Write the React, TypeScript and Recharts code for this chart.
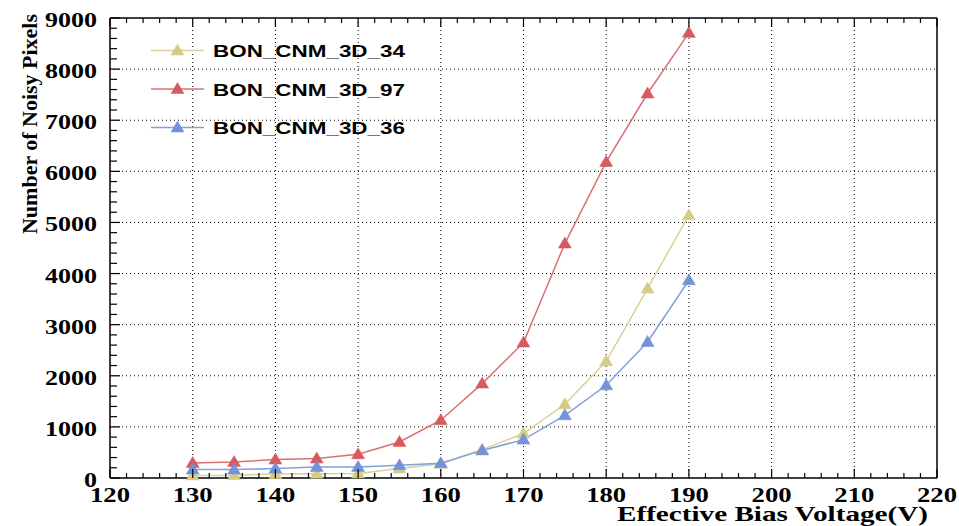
import React from 'react';
import { LineChart, Line, XAxis, YAxis, CartesianGrid, Legend } from 'recharts';

// Noisy pixel count vs effective bias voltage, three sensors
const voltages = [130, 135, 140, 145, 150, 155, 160, 165, 170, 175, 180, 185, 190];
const cnm34 = [50, 55, 80, 85, 90, 185, 280, 556, 869, 1442, 2284, 3707, 5141];
const cnm97 = [293, 313, 360, 380, 464, 705, 1130, 1847, 2650, 4587, 6184, 7523, 8709];
const cnm36 = [164, 164, 184, 215, 215, 248, 290, 540, 751, 1227, 1814, 2662, 3869];

const xMajor = [120, 130, 140, 150, 160, 170, 180, 190, 200, 210, 220];
const yMajor = [0, 1000, 2000, 3000, 4000, 5000, 6000, 7000, 8000, 9000];

const series = [
  { key: 'cnm34', name: 'BON_CNM_3D_34', marker: '#d4cc84', line: '#d8d196' },
  { key: 'cnm97', name: 'BON_CNM_3D_97', marker: '#d65b5e', line: '#dc6f73' },
  { key: 'cnm36', name: 'BON_CNM_3D_36', marker: '#7392d8', line: '#839fdc' },
];

const data = voltages.map((v, i) => ({ v, cnm34: cnm34[i], cnm97: cnm97[i], cnm36: cnm36[i] }));

// minor ticks between the labelled ones
const subdivide = (major: number[], parts: number) => {
  const out: number[] = [];
  for (let i = 0; i < major.length - 1; i++) {
    const step = (major[i + 1] - major[i]) / parts;
    for (let k = 0; k < parts; k++) out.push(major[i] + k * step);
  }
  out.push(major[major.length - 1]);
  return out;
};
const xTicks = subdivide(xMajor, 5);
const yTicks = subdivide(yMajor, 5);

const W = 959;
const H = 526;

const numFont = {
  fontFamily: '"Liberation Serif", "Times New Roman", serif',
  fontWeight: 700,
  fontSize: 21,
  fill: '#000',
};

const triangle = (cx: number, cy: number, color: string, key?: string | number) => (
  <polygon
    key={key}
    points={`${cx},${cy - 6.5} ${cx - 6.5},${cy + 4.5} ${cx + 6.5},${cy + 4.5}`}
    fill={color}
    stroke={color}
    strokeWidth={0.5}
  />
);

const BottomTick = (p: any) => {
  const v = p.payload.value;
  const major = xMajor.includes(v);
  return (
    <g>
      <line x1={p.x} x2={p.x} y1={p.y} y2={p.y - (major ? 9 : 5)} stroke="#000" strokeWidth={1.2} />
      {major && (
        <text x={p.x} y={p.y + 24} textAnchor="middle" textLength={40} lengthAdjust="spacingAndGlyphs" {...numFont}>
          {v}
        </text>
      )}
    </g>
  );
};

const TopTick = (p: any) => {
  const major = xMajor.includes(p.payload.value);
  return <line x1={p.x} x2={p.x} y1={p.y} y2={p.y + (major ? 9 : 5)} stroke="#000" strokeWidth={1.2} />;
};

const LeftTick = (p: any) => {
  const v = p.payload.value;
  const major = yMajor.includes(v);
  const label = String(v);
  return (
    <g>
      <line x1={p.x} x2={p.x + (major ? 10 : 7)} y1={p.y} y2={p.y} stroke="#000" strokeWidth={1.2} />
      {major && (
        <text
          x={p.x - 13}
          y={p.y + 9}
          textAnchor="end"
          textLength={label.length * 13}
          lengthAdjust="spacingAndGlyphs"
          {...numFont}
        >
          {label}
        </text>
      )}
    </g>
  );
};

const RightTick = (p: any) => {
  const major = yMajor.includes(p.payload.value);
  return <line x1={p.x} x2={p.x - (major ? 10 : 7)} y1={p.y} y2={p.y} stroke="#000" strokeWidth={1.2} />;
};

const LegendBox = () => (
  <svg width={430} height={150} style={{ display: 'block' }}>
    {series.map((s, i) => {
      const y = 50.5 + i * 38.5;
      return (
        <g key={s.key}>
          <line x1={151} x2={204} y1={y} y2={y} stroke={s.line} strokeWidth={1.5} />
          {triangle(177.5, y, s.marker)}
          <text
            x={213}
            y={y + 6.5}
            textLength={192}
            lengthAdjust="spacingAndGlyphs"
            fontFamily='"Liberation Sans", Arial, sans-serif'
            fontWeight={700}
            fontSize={16.5}
            fill="#000"
          >
            {s.name}
          </text>
        </g>
      );
    })}
  </svg>
);

export default function App() {
  return (
    <div style={{ position: 'absolute', left: 0, top: 0, width: W, height: H, background: '#fff' }}>
      <LineChart width={W} height={H} data={data} margin={{ top: 0, right: 0, bottom: 0, left: 0 }}>
        <CartesianGrid
          stroke="#000"
          strokeDasharray="1 3"
          verticalValues={[130, 140, 150, 160, 170, 180, 190, 200, 210]}
          horizontalValues={[1000, 2000, 3000, 4000, 5000, 6000, 7000, 8000]}
        />
        <XAxis
          dataKey="v"
          type="number"
          domain={[120, 220]}
          ticks={xTicks}
          interval={0}
          height={48}
          tickSize={0}
          tickMargin={0}
          tick={BottomTick}
          axisLine={{ stroke: '#000', strokeWidth: 1.5 }}
          label={{
            content: (props: any) => {
              const vb = props.viewBox;
              return (
                <text
                  x={vb.x + vb.width - 9}
                  y={vb.y + 43}
                  textAnchor="end"
                  textLength={311}
                  lengthAdjust="spacingAndGlyphs"
                  {...numFont}
                >
                  Effective Bias Voltage(V)
                </text>
              );
            },
          }}
        />
        <XAxis
          xAxisId="top"
          orientation="top"
          dataKey="v"
          type="number"
          domain={[120, 220]}
          ticks={xTicks}
          interval={0}
          height={18}
          tickSize={0}
          tickMargin={0}
          tick={TopTick}
          axisLine={{ stroke: '#000', strokeWidth: 1.5 }}
        />
        <YAxis
          type="number"
          domain={[0, 9000]}
          ticks={yTicks}
          interval={0}
          width={110}
          tickSize={0}
          tickMargin={0}
          tick={LeftTick}
          axisLine={{ stroke: '#000', strokeWidth: 1.5 }}
          label={{
            content: () => (
              <text
                x={37}
                y={124}
                transform="rotate(-90 37 124)"
                textAnchor="middle"
                textLength={220}
                lengthAdjust="spacingAndGlyphs"
                fontFamily='"Liberation Serif", "Times New Roman", serif'
                fontWeight={700}
                fontSize={22}
                fill="#000"
              >
                Number of Noisy Pixels
              </text>
            ),
          }}
        />
        <YAxis
          yAxisId="right"
          orientation="right"
          type="number"
          domain={[0, 9000]}
          ticks={yTicks}
          interval={0}
          width={22}
          tickSize={0}
          tickMargin={0}
          tick={RightTick}
          axisLine={{ stroke: '#000', strokeWidth: 1.5 }}
        />
        <Legend
          layout="horizontal"
          verticalAlign="middle"
          align="center"
          wrapperStyle={{ position: 'absolute', left: 0, top: 0, width: 430, height: 150 }}
          content={() => <LegendBox />}
        />
        {series.map((s) => (
          <Line
            key={s.key}
            dataKey={s.key}
            name={s.name}
            type="linear"
            stroke={s.line}
            strokeWidth={1.5}
            isAnimationActive={false}
            dot={(p: any) => triangle(p.cx, p.cy, s.marker, p.index)}
            activeDot={false}
          />
        ))}
      </LineChart>
    </div>
  );
}
